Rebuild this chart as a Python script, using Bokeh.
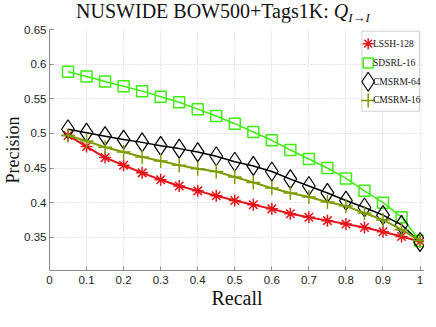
from bokeh.plotting import figure
from bokeh.models import FixedTicker, BoxAnnotation, Div, ColumnDataSource
from bokeh.layouts import column
from bokeh.core.properties import value
from bokeh.embed import file_html
from bokeh.resources import INLINE

recall = [0.05, 0.10, 0.15, 0.20, 0.25, 0.30, 0.35, 0.40, 0.45, 0.50,
          0.55, 0.60, 0.65, 0.70, 0.75, 0.80, 0.85, 0.90, 0.95, 1.00]
lssh_128 = [0.497, 0.481, 0.465, 0.454, 0.443, 0.433, 0.424, 0.417, 0.410, 0.403,
            0.397, 0.391, 0.384, 0.379, 0.374, 0.369, 0.364, 0.358, 0.351, 0.344]
sdsrl_16 = [0.589, 0.582, 0.575, 0.568, 0.561, 0.553, 0.545, 0.535, 0.525, 0.514,
            0.502, 0.490, 0.476, 0.463, 0.450, 0.435, 0.417, 0.400, 0.379, 0.345]
cmsrm_64 = [0.506, 0.501, 0.496, 0.491, 0.487, 0.482, 0.478, 0.473, 0.467, 0.459,
            0.453, 0.445, 0.434, 0.424, 0.414, 0.403, 0.393, 0.382, 0.368, 0.343]
cmsrm_16 = [0.497, 0.489, 0.480, 0.473, 0.466, 0.460, 0.454, 0.449, 0.445, 0.437,
            0.429, 0.421, 0.414, 0.408, 0.401, 0.395, 0.385, 0.375, 0.361, 0.345]
series_names = ["LSSH-128", "SDSRL-16", "CMSRM-64", "CMSRM-16"]
x_ticks = [0, 0.1, 0.2, 0.3, 0.4, 0.5, 0.6, 0.7, 0.8, 0.9, 1.0]
y_ticks = [0.35, 0.40, 0.45, 0.50, 0.55, 0.60, 0.65]

RED = "#e3141a"
GREEN = "#3def0f"
BLACK = "#000000"
OLIVE = "#7d9c00"
SERIF = "Liberation Serif"
TICKFONT = "Liberation Sans"

title = Div(
    text='NUSWIDE BOW500+Tags1K: <i>Q</i><sub style="font-size:13px;vertical-align:-4px"><i>I</i>\u2192<i>I</i></sub>',
    width=424, height=22, margin=(0, 0, 0, 0),
    styles={"font-family": SERIF, "font-size": "20px", "line-height": "22px",
            "text-align": "center", "padding-left": "22px", "color": "#111111",
            "white-space": "nowrap"})

p = figure(width=424, height=289, x_range=(0, 1.012), y_range=(0.302, 0.65),
           output_backend="svg", toolbar_location=None, margin=(0, 0, 0, 0),
           min_border_left=0, min_border_right=0, min_border_top=7, min_border_bottom=0)
p.outline_line_color = None
p.background_fill_color = "white"

for ax in (p.xaxis, p.yaxis):
    ax.major_tick_in = 4
    ax.major_tick_out = 0
    ax.minor_tick_line_color = None
    ax.axis_line_color = "#888888"
    ax.major_tick_line_color = "#888888"
    ax.major_label_text_font = TICKFONT
    ax.major_label_text_font_size = "11.5px"
    ax.major_label_text_color = "#222222"
    ax.axis_label_text_font = SERIF
    ax.axis_label_text_font_style = "normal"
    ax.axis_label_text_color = "#111111"
p.xaxis.ticker = FixedTicker(ticks=x_ticks)
p.yaxis.ticker = FixedTicker(ticks=y_ticks)
p.xaxis.major_label_standoff = 5
p.yaxis.major_label_standoff = 3
p.xaxis.axis_label = "Recall"
p.yaxis.axis_label = "Precision"
p.xaxis.axis_label_text_font_size = "20px"
p.yaxis.axis_label_text_font_size = "18px"
p.xaxis.axis_label_standoff = 0
p.yaxis.axis_label_standoff = -2

for g in (p.xgrid, p.ygrid):
    g.grid_line_color = "#d0d0d0"
    g.grid_line_dash = "1 2"
p.xgrid.ticker = FixedTicker(ticks=x_ticks)
p.ygrid.ticker = FixedTicker(ticks=y_ticks)

p.line(recall, lssh_128, line_color=RED, line_width=2)
p.scatter(recall, lssh_128, marker="asterisk", size=12, line_color=RED, line_width=1.5)
p.line(recall, sdsrl_16, line_color=GREEN, line_width=1.5)
p.scatter(recall, sdsrl_16, marker="square", size=11, line_color=GREEN, fill_color=None, line_width=1.5)
p.line(recall, cmsrm_64, line_color=BLACK, line_width=1.5)
p.scatter(recall, cmsrm_64, marker="diamond", size=19, line_color=BLACK, fill_color=None, line_width=1.2)
p.line(recall, cmsrm_16, line_color=OLIVE, line_width=2)
p.scatter(recall, cmsrm_16, marker="cross", size=14, line_color=OLIVE, line_width=1.5)

# Legend (drawn inside the frame, top-right)
p.add_layout(BoxAnnotation(left=0.843, right=0.998, top=0.6475, bottom=0.532,
                           fill_color="white", fill_alpha=1, line_color="#666666",
                           line_width=1, level="annotation"))
leg_y = [0.6295, 0.6015, 0.5745, 0.5475]
leg_src = ColumnDataSource(dict(tx=[0.873] * 4, y=leg_y, name=series_names))
styles = [("asterisk", 11, RED), ("square", 10, GREEN),
          ("diamond", 19, BLACK), ("cross", 14, OLIVE)]
for i, (mk, sz, col) in enumerate(styles):
    r = p.scatter([0.86], [leg_y[i]], marker=mk, size=sz, line_color=col, fill_color=None,
                  line_width=1.5 if mk != "diamond" else 1.2)
    r.level = "overlay"
t = p.text(x="tx", y="y", text="name", source=leg_src, text_font=value(SERIF),
           text_font_size="9.5px", text_baseline="middle", text_align="left", text_color="#111111")
t.level = "overlay"

layout = column(title, p, margin=(0, 0, 0, 0), spacing=0)
open("out.html", "w").write(file_html(layout, INLINE))
